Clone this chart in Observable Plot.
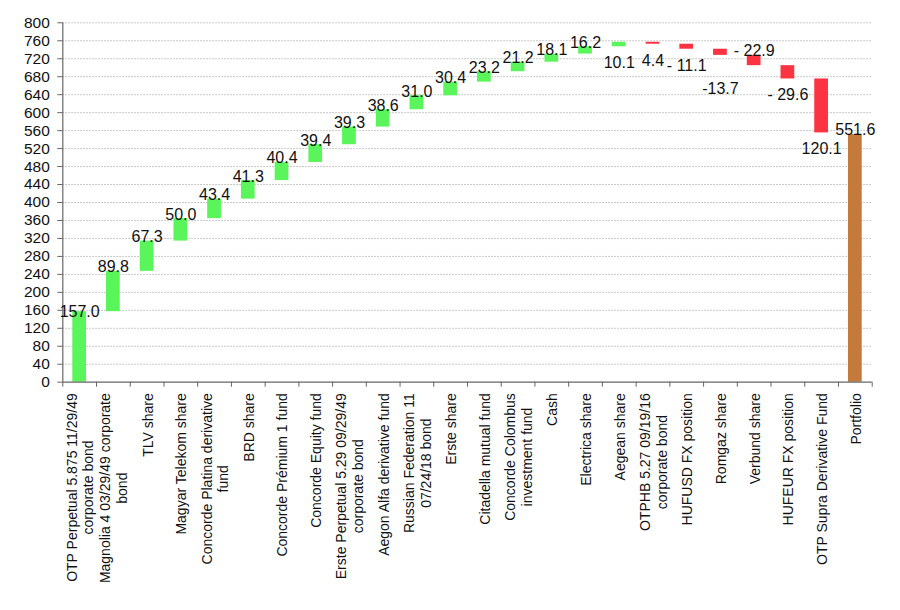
<!DOCTYPE html>
<html>
<head>
<meta charset="utf-8">
<script src="https://cdn.jsdelivr.net/npm/d3@7"></script>
<script src="https://cdn.jsdelivr.net/npm/@observablehq/plot@0.6"></script>
<style>
  html, body { margin: 0; padding: 0; background: #fff; }
  #chart svg { display: block; font-family: "Liberation Sans", Arial, Helvetica, sans-serif; }
</style>
</head>
<body>
<div id="chart"></div>
<script>
const categories = [
  "OTP Perpetual 5.875 11/29/49\ncorporate bond",
  "Magnolia 4 03/29/49 corporate\nbond",
  "TLV share",
  "Magyar Telekom share",
  "Concorde Platina derivative\nfund",
  "BRD share",
  "Concorde Prémium 1 fund",
  "Concorde Equity fund",
  "Erste Perpetual 5.29 09/29/49\ncorporate bond",
  "Aegon Alfa derivative fund",
  "Russian Federation 11\n07/24/18 bond",
  "Erste share",
  "Citadella mutual fund",
  "Concorde Colombus\ninvestment fund",
  "Cash",
  "Electrica share",
  "Aegean share",
  "OTPHB 5.27 09/19/16\ncorporate bond",
  "HUFUSD FX position",
  "Romgaz share",
  "Verbund share",
  "HUFEUR FX position",
  "OTP Supra Derivative Fund",
  "Portfolio"
];
const values = [157.0, 89.8, 67.3, 50.0, 43.4, 41.3, 40.4, 39.4, 39.3, 38.6, 31.0, 30.4,
                23.2, 21.2, 18.1, 16.2, 10.1, -4.4, -11.1, -13.7, -22.9, -29.6, -120.1, 551.6];
const valueLabels = ["157.0", "89.8", "67.3", "50.0", "43.4", "41.3", "40.4", "39.4", "39.3", "38.6",
                     "31.0", "30.4", "23.2", "21.2", "18.1", "16.2", "10.1", "4.4", "- 11.1", "-13.7",
                     "- 22.9", "- 29.6", "120.1", "551.6"];
const totalCategory = "Portfolio";
// categories whose value label sits on the opposite side of the bar
const flippedLabelCategories = ["Aegean share", "Verbund share"];
// categories whose label is pushed further away to avoid a neighbour
const staggeredLabelCategories = ["Romgaz share"];
const yTicks = [0, 40, 80, 120, 160, 200, 240, 280, 320, 360, 400, 440, 480, 520, 560, 600, 640, 680, 720, 760, 800];

// build waterfall rows
let cum = 0;
const rows = categories.map((c, i) => {
  const v = values[i];
  const total = c === totalCategory;
  const y1 = total ? 0 : cum;
  const y2 = total ? v : cum + v;
  if (!total) cum += v;
  const kind = total ? "total" : (v >= 0 ? "up" : "down");
  let above = kind !== "down";
  if (flippedLabelCategories.includes(c)) above = !above;
  return {i, c, v, y1, y2, top: Math.max(y1, y2), bottom: Math.min(y1, y2),
          label: valueLabels[i], kind, above, stagger: staggeredLabelCategories.includes(c)};
});

const colors = {up: "#5af55a", down: "#fc3340", total: "#c47a3a"};
const n = categories.length;
const labelFont = 16;

const chart = Plot.plot({
  width: 900,
  height: 610,
  marginLeft: 62.3,
  marginRight: 28.3,
  marginTop: 22.3,
  marginBottom: 228.3,
  style: {fontFamily: '"Liberation Sans", Arial, Helvetica, sans-serif', background: "#fff"},
  x: {type: "linear", domain: [0, n], axis: null},
  y: {domain: [0, 800], axis: null},
  marks: [
    Plot.gridY(yTicks.filter(d => d > 0), {stroke: "#b8b8b8", strokeOpacity: 1, strokeDasharray: "1.5,1.5", strokeWidth: 1}),
    Plot.rectY(rows, {
      x1: d => d.i, x2: d => d.i + 1, y1: "y1", y2: "y2",
      fill: d => colors[d.kind], insetLeft: 10, insetRight: 10
    }),
    // y axis
    Plot.axisY({ticks: yTicks, tickSize: 5, tickPadding: 8, fontSize: 15.5, stroke: "#666", fill: "#111"}),
    Plot.ruleX([0], {y1: 0, y2: 800, stroke: "#666", strokeWidth: 1.2}),
    // x axis line and boundary ticks
    Plot.ruleY([0], {stroke: "#666", strokeWidth: 1.2}),
    Plot.axisX({ticks: d3.range(0, n + 1), tickFormat: () => "", tickSize: 5, stroke: "#666"}),
    Plot.axisX({
      ticks: d3.range(n).map(i => i + 0.5),
      tickFormat: t => categories[Math.floor(t)],
      tickSize: 0, tickPadding: 11, tickRotate: -90, fontSize: 14, lineHeight: 1.2, fill: "#111"
    }),
    // value labels above bars
    Plot.text(rows.filter(d => d.above && d.i > 0), {
      x: d => d.i + 0.5, y: "top", text: "label", lineAnchor: "bottom", dy: 1,
      fontSize: labelFont, fill: "#111"
    }),
    // first bar: label straddles the bar top
    Plot.text(rows.filter(d => d.above && d.i === 0), {
      x: d => d.i + 0.5, y: "top", text: "label", lineAnchor: "middle",
      fontSize: labelFont, fill: "#111"
    }),
    // value labels below bars
    Plot.text(rows.filter(d => !d.above && !d.stagger), {
      x: d => d.i + 0.5, y: "bottom", text: "label", lineAnchor: "top", dy: 10,
      fontSize: labelFont, fill: "#111"
    }),
    Plot.text(rows.filter(d => !d.above && d.stagger), {
      x: d => d.i + 0.5, y: "bottom", text: "label", lineAnchor: "top", dy: 27,
      fontSize: labelFont, fill: "#111"
    })
  ]
});

document.getElementById("chart").appendChild(chart);

// center wrapped lines of multi-line tick labels within their block
chart.querySelectorAll('g[aria-label="x-axis tick label"] text').forEach(t => {
  const spans = t.querySelectorAll("tspan");
  if (spans.length > 1) {
    let L = 0;
    spans.forEach(s => { L = Math.max(L, s.getComputedTextLength()); });
    t.setAttribute("text-anchor", "middle");
    spans.forEach(s => s.setAttribute("x", -L / 2));
  }
});
</script>
</body>
</html>
